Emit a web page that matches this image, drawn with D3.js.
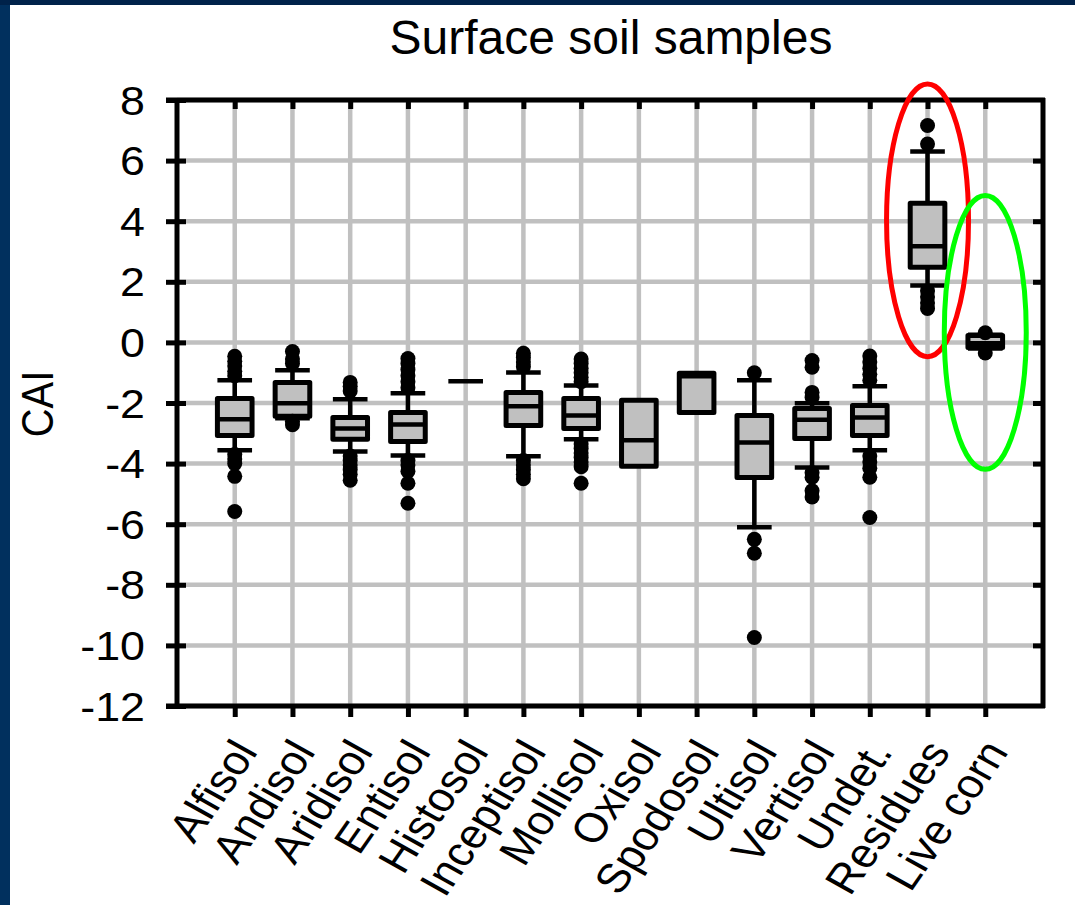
<!DOCTYPE html>
<html>
<head>
<meta charset="utf-8">
<script src="https://cdn.jsdelivr.net/npm/d3@7"></script>
<style>
  body { margin: 0; background: #012a58; }
  svg { display: block; }
  text { font-family: "Liberation Sans", Arial, sans-serif; fill: #000; }
</style>
</head>
<body>
<svg id="chart"></svg>
<script>
const categories = ["Alfisol", "Andisol", "Aridisol", "Entisol", "Histosol", "Inceptisol", "Mollisol",
  "Oxisol", "Spodosol", "Ultisol", "Vertisol", "Undet.", "Residues", "Live corn"];
const q1 =      [-3.07, -2.44, -3.20, -3.27, -1.28, -2.74, -2.84, -4.09, -2.31, -4.46, -3.17, -3.07, 2.48, -0.17];
const median =  [-2.54, -2.01, -2.84, -2.71, -1.28, -2.11, -2.41, -3.23, -1.12, -3.30, -2.55, -2.48, 3.17, -0.03];
const q3 =      [-1.85, -1.32, -2.48, -2.31, -1.28, -1.65, -1.85, -1.91, -1.02, -2.41, -2.18, -2.08, 4.59, 0.23];
const whiskLo = [-3.56, -2.50, -3.60, -3.73, -1.28, -3.76, -3.20, -4.09, -2.31, -6.10, -4.13, -3.56, 1.88, -0.20];
const whiskHi = [-1.25, -0.92, -1.88, -1.68, -1.28, -0.99, -1.42, -1.91, -1.02, -1.25, -2.01, -1.45, 6.30, 0.25];
const outliers = [
  [-0.46, -0.62, -0.78, -0.95, -1.1, -3.7, -3.85, -4.0, -4.42, -5.58],
  [-0.3, -0.55, -0.7, -2.6, -2.72],
  [-1.32, -1.45, -1.6, -3.75, -3.9, -4.05, -4.2, -4.35, -4.55],
  [-0.53, -0.7, -0.9, -1.1, -1.3, -1.5, -3.9, -4.05, -4.25, -4.65, -5.31],
  [],
  [-0.36, -0.5, -0.65, -0.8, -3.9, -4.05, -4.2, -4.35, -4.5],
  [-0.55, -0.7, -0.85, -1.0, -1.15, -1.3, -3.35, -3.5, -3.65, -3.8, -3.95, -4.1, -4.65],
  [],
  [],
  [-1.0, -6.5, -6.96, -9.74],
  [-0.6, -0.82, -1.65, -1.82, -4.3, -4.45, -4.9, -5.1],
  [-0.45, -0.65, -0.85, -1.05, -1.25, -3.75, -3.95, -4.15, -4.45, -5.78],
  [7.16, 6.55, 1.7, 1.5, 1.3, 1.12],
  [0.32, -0.35]
];
const yTicks = [8, 6, 4, 2, 0, -2, -4, -6, -8, -10, -12];
// highlight ellipses: category, centre value, half height (CAI units), colour
const ringCats = ["Residues", "Live corn"];
const ringCentre = [4.03, 0.33];
const ringHalf = [4.5, 4.52];
const ringColors = ["#ff0000", "#00ff00"];

const W = 1075, H = 905;
const stretch = 1.12; // the chart graphic is a bit wider than tall on the slide
const svg = d3.select("#chart").attr("width", W).attr("height", H);

// slide background
svg.append("rect").attr("width", W).attr("height", H).attr("fill", "#01305e");
svg.append("rect").attr("width", W).attr("height", 5).attr("fill", "#00224a");
svg.append("rect").attr("x", 10).attr("y", 5).attr("width", W - 10).attr("height", H - 5).attr("fill", "#fff");

const x = d3.scalePoint().domain(categories).range([177, 1043]).padding(1);
const y = d3.scaleLinear().domain([-12, 8]).range([706, 100]);
const boxW = x.step() * 0.6;

const grid = svg.append("g").attr("stroke", "#c0c0c0").attr("stroke-width", 4.5);
grid.selectAll(".gx").data(categories).join("line")
  .attr("x1", d => x(d)).attr("x2", d => x(d)).attr("y1", y(8)).attr("y2", y(-12));
grid.selectAll(".gy").data(yTicks).join("line")
  .attr("x1", 177).attr("x2", 1043).attr("y1", d => y(d)).attr("y2", d => y(d));

// axes
const leftAxis = svg.append("g").attr("transform", "translate(177,0)")
  .call(d3.axisLeft(y).tickValues(yTicks).tickSizeInner(11).tickSizeOuter(0).tickFormat(d => String(d)));
leftAxis.selectAll(".tick line").attr("x1", 9);
leftAxis.selectAll(".tick text")
  .attr("x", null).attr("dy", null)
  .attr("transform", `translate(-32,14) scale(${stretch},1)`)
  .style("font-size", "40px");

const bottomAxis = svg.append("g").attr("transform", "translate(0,706)")
  .call(d3.axisBottom(x).tickSizeInner(11).tickSizeOuter(0).tickFormat(""));
const topAxis = svg.append("g").attr("transform", "translate(0,100)")
  .call(d3.axisBottom(x).tickSizeInner(9).tickSizeOuter(0).tickFormat(""));
const rightAxis = svg.append("g").attr("transform", "translate(1043,0)")
  .call(d3.axisLeft(y).tickValues(yTicks.slice(1, -1)).tickSizeInner(10).tickSizeOuter(0).tickFormat(""));
[leftAxis, bottomAxis, topAxis, rightAxis].forEach(g => {
  g.select(".domain").attr("stroke", "#000").attr("stroke-width", 5);
  g.selectAll(".tick line").attr("stroke", "#000").attr("stroke-width", 5);
});
leftAxis.select(".domain").attr("d", "M0,98V708");
rightAxis.select(".domain").attr("d", "M0,98V708");
bottomAxis.select(".domain").attr("d", "M166,0H1045");
topAxis.select(".domain").attr("d", "M166,0H1045");

svg.append("g").selectAll("text").data(categories).join("text")
  .attr("transform", d => `translate(${x(d) + 24},752) scale(${stretch},1) rotate(-58)`)
  .attr("text-anchor", "end")
  .style("font-size", "41px")
  .text(d => d);

svg.append("text").attr("x", 611).attr("y", 54).attr("text-anchor", "middle")
  .style("font-size", "48px").text("Surface soil samples");
svg.append("text").attr("transform", `translate(53,404) scale(${stretch},1) rotate(-90)`).attr("text-anchor", "middle")
  .style("font-size", "40px").text("CAI");

// box plots
const boxes = svg.append("g").attr("stroke", "#000").attr("stroke-width", 4.5);
categories.forEach((c, i) => {
  const cx = x(c);
  const g = boxes.append("g");
  if (whiskHi[i] > q3[i]) {
    g.append("line").attr("x1", cx).attr("x2", cx).attr("y1", y(whiskHi[i])).attr("y2", y(q3[i]));
    g.append("line").attr("x1", cx - boxW / 2).attr("x2", cx + boxW / 2).attr("y1", y(whiskHi[i])).attr("y2", y(whiskHi[i]));
  }
  if (whiskLo[i] < q1[i]) {
    g.append("line").attr("x1", cx).attr("x2", cx).attr("y1", y(q1[i])).attr("y2", y(whiskLo[i]));
    g.append("line").attr("x1", cx - boxW / 2).attr("x2", cx + boxW / 2).attr("y1", y(whiskLo[i])).attr("y2", y(whiskLo[i]));
  }
  g.append("rect").attr("x", cx - boxW / 2).attr("width", boxW)
    .attr("y", y(q3[i])).attr("height", y(q1[i]) - y(q3[i]))
    .attr("fill", "#c0c0c0").attr("stroke-width", 5).attr("stroke-linejoin", "round");
  g.append("line").attr("x1", cx - boxW / 2).attr("x2", cx + boxW / 2)
    .attr("y1", y(median[i])).attr("y2", y(median[i]));
  g.selectAll("circle").data(outliers[i]).join("circle")
    .attr("cx", cx).attr("cy", d => y(d)).attr("r", 7.5).attr("fill", "#000").attr("stroke", "none");
});

// highlight rings
svg.append("g").selectAll("ellipse").data(ringCats).join("ellipse")
  .attr("cx", d => x(d))
  .attr("cy", (d, i) => y(ringCentre[i]))
  .attr("rx", x.step() * 0.71)
  .attr("ry", (d, i) => y(0) - y(ringHalf[i]))
  .attr("fill", "none")
  .attr("stroke", (d, i) => ringColors[i])
  .attr("stroke-width", 5);
</script>
</body>
</html>
